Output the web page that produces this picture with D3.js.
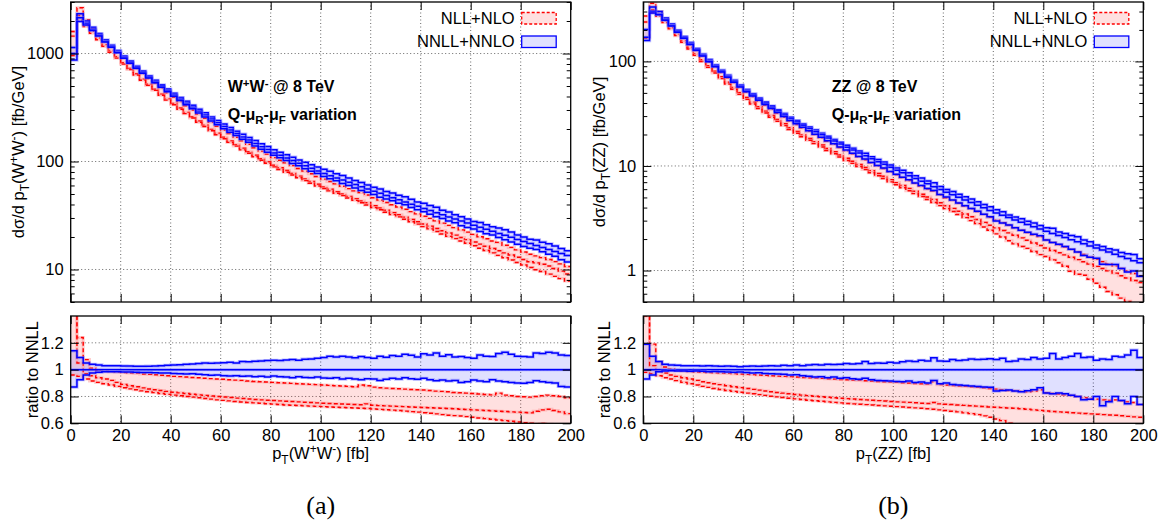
<!DOCTYPE html>
<html><head><meta charset="utf-8">
<script src="https://cdn.jsdelivr.net/npm/d3@7"></script>
<style>
body{margin:0;background:#fff}
svg{display:block}
</style>
</head><body>
<svg id="c" width="1167" height="527"></svg>
<script>
// ---------------- DATA (bins of 2.5 GeV from 0 to 200) ----------------
const binWidth = 2.5;
const xTickLabels = [0,20,40,60,80,100,120,140,160,180,200];
const ratioTickLabels = [0.6,0.8,1,1.2];

// W+W- : NNLL+NNLO central value [fb/GeV]
const wwNNLLCentral = [1000,2140,1910,1680,1480,1300,1160,1035,922,828,
 745,671,607,550,499,454,414,378,347,318,
 292,269,247,228,211,196,182,169,158,147,
 137,129,120,114,108,102,96.4,91.2,86.5,81.8,
 77.6,74.0,70.5,67.3,64.1,61.2,58.3,55.7,53.1,50.7,
 48.4,46.2,44.2,42.2,40.3,38.5,36.7,35.2,33.6,32.1,
 30.7,29.4,28.1,26.9,25.7,24.6,23.6,22.6,21.6,20.7,
 19.9,19.0,18.2,17.4,16.7,16.0,15.3,14.7,14.1,13.5];
// ratios to NNLL central
const wwNNLLUp = [1.14,1.09,1.05,1.04,1.035,1.03,1.03,1.03,1.028,1.027,
 1.025,1.025,1.026,1.027,1.03,1.032,1.035,1.036,1.04,1.042,
 1.045,1.05,1.048,1.05,1.052,1.055,1.05,1.06,1.058,1.062,
 1.065,1.068,1.07,1.068,1.072,1.075,1.07,1.078,1.08,1.085,
 1.09,1.1,1.095,1.1,1.095,1.088,1.098,1.09,1.085,1.1,
 1.092,1.105,1.1,1.115,1.108,1.095,1.118,1.11,1.125,1.1,
 1.112,1.095,1.098,1.09,1.085,1.11,1.1,1.098,1.12,1.13,
 1.115,1.1,1.098,1.095,1.125,1.12,1.13,1.125,1.11,1.105];
const wwNNLLDown = [0.87,0.925,0.96,0.975,0.98,0.985,0.985,0.984,0.983,0.982,
 0.98,0.979,0.978,0.977,0.975,0.975,0.972,0.97,0.968,0.97,
 0.965,0.962,0.958,0.96,0.955,0.952,0.955,0.95,0.952,0.948,
 0.95,0.946,0.952,0.948,0.945,0.94,0.948,0.942,0.94,0.945,
 0.938,0.935,0.94,0.93,0.936,0.93,0.925,0.932,0.93,0.92,
 0.928,0.935,0.93,0.94,0.932,0.928,0.935,0.925,0.918,0.922,
 0.915,0.92,0.905,0.91,0.922,0.915,0.91,0.925,0.915,0.91,
 0.905,0.9,0.898,0.905,0.918,0.91,0.905,0.9,0.875,0.87];
const wwNLLUp = [1.6,1.24,1.075,1.01,0.995,0.99,0.985,0.982,0.978,0.975,
 0.972,0.968,0.965,0.962,0.958,0.955,0.95,0.948,0.945,0.942,
 0.94,0.936,0.933,0.93,0.928,0.925,0.922,0.92,0.915,0.912,
 0.91,0.908,0.905,0.902,0.9,0.898,0.895,0.893,0.89,0.888,
 0.885,0.883,0.88,0.878,0.875,0.873,0.885,0.88,0.87,0.865,
 0.862,0.86,0.858,0.855,0.852,0.85,0.848,0.845,0.84,0.838,
 0.835,0.83,0.828,0.825,0.822,0.818,0.815,0.812,0.825,0.81,
 0.805,0.8,0.798,0.795,0.8,0.805,0.81,0.805,0.8,0.79];
const wwNLLCentral = [1.45,1.05,0.97,0.955,0.94,0.93,0.92,0.905,0.89,0.88,
 0.872,0.864,0.856,0.85,0.844,0.838,0.832,0.827,0.822,0.817,
 0.812,0.808,0.804,0.8,0.796,0.792,0.788,0.785,0.781,0.778,
 0.775,0.772,0.77,0.767,0.764,0.762,0.76,0.757,0.755,0.752,
 0.75,0.748,0.746,0.744,0.742,0.74,0.738,0.745,0.735,0.732,
 0.73,0.728,0.726,0.724,0.722,0.72,0.718,0.716,0.714,0.712,
 0.71,0.708,0.705,0.703,0.7,0.698,0.695,0.693,0.69,0.688,
 0.685,0.683,0.68,0.678,0.69,0.7,0.705,0.695,0.685,0.672];
const wwNLLDown = [0.96,0.95,0.93,0.915,0.905,0.895,0.885,0.875,0.865,0.857,
 0.85,0.842,0.835,0.829,0.822,0.816,0.81,0.805,0.8,0.795,
 0.79,0.785,0.78,0.775,0.771,0.767,0.763,0.759,0.755,0.752,
 0.749,0.746,0.743,0.74,0.737,0.735,0.733,0.73,0.728,0.726,
 0.724,0.722,0.72,0.718,0.716,0.714,0.712,0.71,0.707,0.704,
 0.701,0.698,0.695,0.691,0.687,0.683,0.679,0.675,0.67,0.665,
 0.66,0.657,0.654,0.65,0.645,0.64,0.635,0.63,0.625,0.62,
 0.615,0.61,0.605,0.6,0.595,0.598,0.592,0.588,0.584,0.58];

// ZZ : NNLL+NNLO central value [fb/GeV]
const zzNNLLCentral = [170,302,283,250,220,192,168,147,129,114,
 101,90.2,80.4,71.9,64.6,58.1,52.5,47.8,43.6,39.8,
 36.5,33.5,30.8,28.4,26.3,24.5,22.8,21.3,19.9,18.5,
 17.3,16.2,15.1,14.2,13.3,12.5,11.7,11.0,10.4,9.70,
 9.12,8.59,8.07,7.60,7.16,6.75,6.34,5.97,5.62,5.31,
 5.01,4.73,4.47,4.22,3.98,3.76,3.55,3.37,3.21,3.05,
 2.90,2.76,2.62,2.49,2.37,2.26,2.16,2.07,1.97,1.88,
 1.80,1.72,1.64,1.57,1.50,1.43,1.36,1.30,1.24,1.19];
const zzNNLLUp = [1.19,1.10,1.06,1.04,1.035,1.032,1.03,1.03,1.03,1.028,
 1.03,1.027,1.025,1.027,1.025,1.022,1.025,1.027,1.025,1.028,
 1.03,1.028,1.032,1.03,1.035,1.03,1.035,1.038,1.035,1.04,
 1.038,1.04,1.045,1.042,1.045,1.06,1.045,1.05,1.048,1.055,
 1.05,1.058,1.065,1.06,1.07,1.065,1.088,1.065,1.062,1.075,
 1.068,1.072,1.08,1.075,1.078,1.082,1.075,1.085,1.06,1.065,
 1.08,1.075,1.09,1.08,1.085,1.12,1.08,1.09,1.1,1.12,
 1.09,1.095,1.07,1.08,1.075,1.1,1.095,1.11,1.145,1.09];
const zzNNLLDown = [0.93,0.96,0.985,0.99,0.992,0.99,0.99,0.988,0.99,0.988,
 0.985,0.986,0.984,0.982,0.98,0.982,0.978,0.975,0.976,0.972,
 0.97,0.968,0.965,0.96,0.962,0.955,0.95,0.945,0.948,0.94,
 0.945,0.935,0.94,0.932,0.928,0.935,0.925,0.92,0.918,0.915,
 0.912,0.91,0.915,0.905,0.908,0.9,0.92,0.895,0.9,0.89,
 0.885,0.882,0.878,0.875,0.87,0.868,0.84,0.845,0.848,0.84,
 0.835,0.842,0.85,0.865,0.825,0.82,0.825,0.82,0.81,0.8,
 0.775,0.78,0.8,0.73,0.76,0.8,0.77,0.745,0.8,0.74];
const zzNLLUp = [1.6,1.19,1.06,1.02,1.005,0.995,0.99,0.985,0.983,0.98,
 0.978,0.976,0.974,0.972,0.97,0.968,0.965,0.963,0.96,0.958,
 0.955,0.952,0.95,0.948,0.945,0.942,0.94,0.937,0.935,0.932,
 0.93,0.927,0.925,0.922,0.92,0.917,0.915,0.912,0.91,0.907,
 0.905,0.902,0.9,0.897,0.895,0.892,0.91,0.888,0.885,0.882,
 0.878,0.875,0.872,0.868,0.865,0.86,0.855,0.85,0.845,0.842,
 0.838,0.835,0.84,0.85,0.828,0.822,0.818,0.812,0.808,0.8,
 0.79,0.785,0.78,0.775,0.77,0.775,0.768,0.76,0.755,0.74];
const zzNLLCentral = [1.4,1.03,0.99,0.975,0.96,0.95,0.94,0.93,0.92,0.91,
 0.902,0.895,0.888,0.88,0.873,0.866,0.86,0.853,0.847,0.841,
 0.835,0.83,0.825,0.82,0.815,0.81,0.806,0.802,0.798,0.794,
 0.79,0.787,0.784,0.781,0.778,0.775,0.772,0.769,0.766,0.763,
 0.76,0.758,0.756,0.753,0.75,0.748,0.755,0.745,0.742,0.74,
 0.737,0.734,0.731,0.728,0.725,0.722,0.72,0.717,0.714,0.712,
 0.708,0.705,0.7,0.696,0.692,0.688,0.685,0.682,0.679,0.676,
 0.673,0.67,0.668,0.665,0.662,0.66,0.656,0.652,0.648,0.645];
const zzNLLDown = [0.98,0.97,0.955,0.94,0.93,0.918,0.905,0.895,0.885,0.875,
 0.868,0.86,0.852,0.845,0.838,0.832,0.825,0.82,0.814,0.808,
 0.802,0.797,0.792,0.787,0.782,0.777,0.772,0.768,0.764,0.76,
 0.756,0.752,0.748,0.745,0.742,0.739,0.736,0.733,0.73,0.727,
 0.724,0.721,0.718,0.715,0.712,0.708,0.705,0.7,0.695,0.69,
 0.685,0.678,0.672,0.665,0.655,0.645,0.632,0.62,0.6,0.59,
 0.585,0.59,0.58,0.57,0.575,0.56,0.55,0.53,0.5,0.49,
 0.5,0.48,0.46,0.44,0.42,0.41,0.4,0.39,0.38,0.37];

const legendLabels = ["NLL+NLO","NNLL+NNLO"];
// ---------------------------------------------------------------------

const svg = d3.select('#c');
const defs = svg.append('defs');
const FS = 16.5;
const SANS = '"Liberation Sans",Arial,sans-serif';
const SERIF = '"Liberation Serif","Times New Roman",serif';
const RED = '#ff0000', BLUE = '#0000ff';
const RED_FILL = 'rgba(255,0,0,0.12)', BLUE_FILL = 'rgba(0,0,255,0.12)';

function rich(t, parts, size){
  let shift = 0;
  parts.forEach(([s,m])=>{
    const target = m==='sup' ? -0.34*size : (m==='sub' ? 0.28*size : 0);
    t.append('tspan').attr('dy', target-shift).style('font-size', (m==='n'? size : size*0.72)+'px').text(s);
    shift = target;
  });
}
function txt(sel, size, weight){
  return sel.style('font-family',SANS).style('font-size',size+'px').style('font-weight',weight||'normal').attr('fill','#000');
}

function styleAxis(g){
  g.select('.domain').remove();
  g.attr('font-family',SANS).attr('font-size',FS);
  g.selectAll('line').attr('stroke','#000').attr('stroke-width',1);
  g.selectAll('text').attr('fill','#000');
}

function panel(o){
  const T=2, B=302, RT=316, RB=423.3;
  const edges = d3.range(o.nnC.length+1).map(i=>i*binWidth);
  const x = d3.scaleLinear().domain([0,200]).range([o.L,o.R]);
  const y = d3.scaleLog().domain(o.yDomain).range([B,T]);
  const yr = d3.scaleLinear().domain([0.6,1.4]).range([RB,RT]);

  defs.append('clipPath').attr('id',o.id+'m').append('rect')
    .attr('x',o.L).attr('y',T).attr('width',o.R-o.L).attr('height',B-T);
  defs.append('clipPath').attr('id',o.id+'r').append('rect')
    .attr('x',o.L).attr('y',RT).attr('width',o.R-o.L).attr('height',RB-RT);

  // grid
  const grid = svg.append('g').attr('stroke','#000').attr('stroke-width',0.8)
    .attr('stroke-dasharray','1,2.5').attr('opacity',0.75);
  const gx = xTickLabels.filter(v=>v>0 && v<200);
  gx.forEach(v=>{
    grid.append('line').attr('x1',x(v)).attr('x2',x(v)).attr('y1',T).attr('y2',B);
    grid.append('line').attr('x1',x(v)).attr('x2',x(v)).attr('y1',RT).attr('y2',RB);
  });
  o.majors.forEach(v=>grid.append('line').attr('x1',o.L).attr('x2',o.R).attr('y1',y(v)).attr('y2',y(v)));
  [0.8,1,1.2].forEach(v=>grid.append('line').attr('x1',o.L).attr('x2',o.R).attr('y1',yr(v)).attr('y2',yr(v)));

  function stepPts(vals){ const p=[]; vals.forEach((v,i)=>{p.push([edges[i],v]);p.push([edges[i+1],v]);}); return p; }
  function bandPts(lo,hi){ const p=[]; lo.forEach((v,i)=>{p.push([edges[i],v,hi[i]]);p.push([edges[i+1],v,hi[i]]);}); return p; }

  function series(g, ys, s){
    const area = d3.area().x(d=>x(d[0])).y0(d=>ys(d[1])).y1(d=>ys(d[2]));
    const line = d3.line().x(d=>x(d[0])).y(d=>ys(d[1]));
    g.append('path').attr('d',area(bandPts(s.nlD,s.nlU))).attr('fill',RED_FILL);
    g.append('path').attr('d',area(bandPts(s.nnD,s.nnU))).attr('fill',BLUE_FILL);
    [s.nlU,s.nlC,s.nlD].forEach(v=>{
      g.append('path').attr('d',line(stepPts(v))).attr('fill','none')
        .attr('stroke','#ff9090').attr('stroke-width',3).attr('opacity',0.45);
      g.append('path').attr('d',line(stepPts(v))).attr('fill','none')
        .attr('stroke',RED).attr('stroke-width',1.4).attr('stroke-dasharray','4,2.5');
    });
    [s.nnU,s.nnC,s.nnD].forEach(v=>{
      g.append('path').attr('d',line(stepPts(v))).attr('fill','none')
        .attr('stroke','#8080ff').attr('stroke-width',3.2).attr('opacity',0.5);
      g.append('path').attr('d',line(stepPts(v))).attr('fill','none')
        .attr('stroke',BLUE).attr('stroke-width',1.5);
    });
  }
  const mul = r => o.nnC.map((v,i)=>v*r[i]);
  series(svg.append('g').attr('clip-path',`url(#${o.id}m)`), y,
    {nnC:o.nnC, nnU:mul(o.nnU), nnD:mul(o.nnD), nlC:mul(o.nlC), nlU:mul(o.nlU), nlD:mul(o.nlD)});
  series(svg.append('g').attr('clip-path',`url(#${o.id}r)`), yr,
    {nnC:o.nnC.map((v,i)=>v/o.nnC[i]), nnU:o.nnU, nnD:o.nnD, nlC:o.nlC, nlU:o.nlU, nlD:o.nlD});

  // frames
  svg.append('rect').attr('x',o.L).attr('y',T).attr('width',o.R-o.L).attr('height',B-T)
    .attr('fill','none').attr('stroke','#000').attr('stroke-width',1.3);
  svg.append('rect').attr('x',o.L).attr('y',RT).attr('width',o.R-o.L).attr('height',RB-RT)
    .attr('fill','none').attr('stroke','#000').attr('stroke-width',1.3);

  // main axes
  const minors = [];
  [0.1,1,10,100,1000].forEach(d=>{ for(let k=2;k<=9;k++){ const v=k*d; if(v>=o.yDomain[0]&&v<=o.yDomain[1]) minors.push(v);} });
  svg.append('g').attr('transform',`translate(${o.L},0)`)
    .call(d3.axisLeft(y).tickValues(o.majors).tickFormat(d3.format('d')).tickSizeInner(-8).tickSizeOuter(0).tickPadding(7)).call(styleAxis);
  svg.append('g').attr('transform',`translate(${o.L},0)`)
    .call(d3.axisLeft(y).tickValues(minors).tickFormat('').tickSizeInner(-4).tickSizeOuter(0)).call(styleAxis);
  svg.append('g').attr('transform',`translate(${o.R},0)`)
    .call(d3.axisRight(y).tickValues(o.majors).tickFormat('').tickSizeInner(-8).tickSizeOuter(0)).call(styleAxis);
  svg.append('g').attr('transform',`translate(${o.R},0)`)
    .call(d3.axisRight(y).tickValues(minors).tickFormat('').tickSizeInner(-4).tickSizeOuter(0)).call(styleAxis);
  svg.append('g').attr('transform',`translate(0,${B})`)
    .call(d3.axisBottom(x).tickValues(xTickLabels).tickFormat('').tickSizeInner(-8).tickSizeOuter(0)).call(styleAxis);
  svg.append('g').attr('transform',`translate(0,${T})`)
    .call(d3.axisTop(x).tickValues(xTickLabels).tickFormat('').tickSizeInner(-8).tickSizeOuter(0)).call(styleAxis);

  // ratio axes
  const rfmt = d=> d===1 ? '1' : d3.format('.1f')(d);
  svg.append('g').attr('transform',`translate(${o.L},0)`)
    .call(d3.axisLeft(yr).tickValues(ratioTickLabels).tickFormat(rfmt).tickSizeInner(-8).tickSizeOuter(0).tickPadding(7)).call(styleAxis);
  svg.append('g').attr('transform',`translate(${o.R},0)`)
    .call(d3.axisRight(yr).tickValues(ratioTickLabels).tickFormat('').tickSizeInner(-8).tickSizeOuter(0)).call(styleAxis);
  svg.append('g').attr('transform',`translate(0,${RB})`)
    .call(d3.axisBottom(x).tickValues(xTickLabels).tickFormat(d3.format('d')).tickSizeInner(-8).tickSizeOuter(0).tickPadding(6)).call(styleAxis);
  svg.append('g').attr('transform',`translate(0,${RT})`)
    .call(d3.axisTop(x).tickValues(xTickLabels).tickFormat('').tickSizeInner(-8).tickSizeOuter(0)).call(styleAxis);

  // labels
  const yl = txt(svg.append('text').attr('transform',`translate(${o.ylabX},${(T+B)/2}) rotate(-90)`)
    .attr('text-anchor','middle'), FS);
  rich(yl, o.ylabel, FS);
  txt(svg.append('text').attr('transform',`translate(${o.L-33},${(RT+RB)/2}) rotate(-90)`)
    .attr('text-anchor','middle'), FS).text('ratio to NNLL');
  const xl = txt(svg.append('text').attr('x',(o.L+o.R)/2).attr('y',459).attr('text-anchor','middle'), FS);
  rich(xl, o.xlabel, FS);
  svg.append('text').attr('x',(o.L+o.R)/2).attr('y',514).attr('text-anchor','middle')
    .style('font-family',SERIF).style('font-size','26px').attr('fill','#000').text(o.tag);

  // annotations
  const a1 = txt(svg.append('text').attr('x',o.L+o.annX).attr('y',92), 16, 'bold');
  rich(a1, o.title, 16);
  const a2 = txt(svg.append('text').attr('x',o.L+o.annX).attr('y',120), 16, 'bold');
  rich(a2, [['Q-μ','n'],['R','sub'],['-μ','n'],['F','sub'],[' variation','n']], 16);

  // legend
  const lg = svg.append('g');
  [[legendLabels[0],12.5,RED_FILL,RED,'3,2'],[legendLabels[1],36,BLUE_FILL,BLUE,null]].forEach(([lab,yy,f,s,da])=>{
    txt(lg.append('text').attr('x',o.R-56).attr('y',yy+11).attr('text-anchor','end'), FS).text(lab);
    const r = lg.append('rect').attr('x',o.R-49).attr('y',yy).attr('width',34.5).attr('height',11.5)
      .attr('fill',f).attr('stroke',s).attr('stroke-width',1.3);
    if(da) r.attr('stroke-dasharray',da);
  });
}

panel({id:'ww', L:70.7, R:570.7, yDomain:[5,3000], majors:[10,100,1000], ylabX:24, annX:157,
  nnC:wwNNLLCentral, nnU:wwNNLLUp, nnD:wwNNLLDown, nlC:wwNLLCentral, nlU:wwNLLUp, nlD:wwNLLDown,
  ylabel:[['dσ/d p','n'],['T','sub'],['(W','n'],['+','sup'],['W','n'],['-','sup'],[') [fb/GeV]','n']],
  xlabel:[['p','n'],['T','sub'],['(W','n'],['+','sup'],['W','n'],['-','sup'],[') [fb]','n']],
  title:[['W','n'],['+','sup'],['W','n'],['-','sup'],[' @ 8 TeV','n']], tag:'(a)'});
panel({id:'zz', L:643.3, R:1143.3, yDomain:[0.5,370], majors:[1,10,100], ylabX:605, annX:188.5,
  nnC:zzNNLLCentral, nnU:zzNNLLUp, nnD:zzNNLLDown, nlC:zzNLLCentral, nlU:zzNLLUp, nlD:zzNLLDown,
  ylabel:[['dσ/d p','n'],['T','sub'],['(ZZ) [fb/GeV]','n']],
  xlabel:[['p','n'],['T','sub'],['(ZZ) [fb]','n']],
  title:[['ZZ @ 8 TeV','n']], tag:'(b)'});
</script>
</body></html>
